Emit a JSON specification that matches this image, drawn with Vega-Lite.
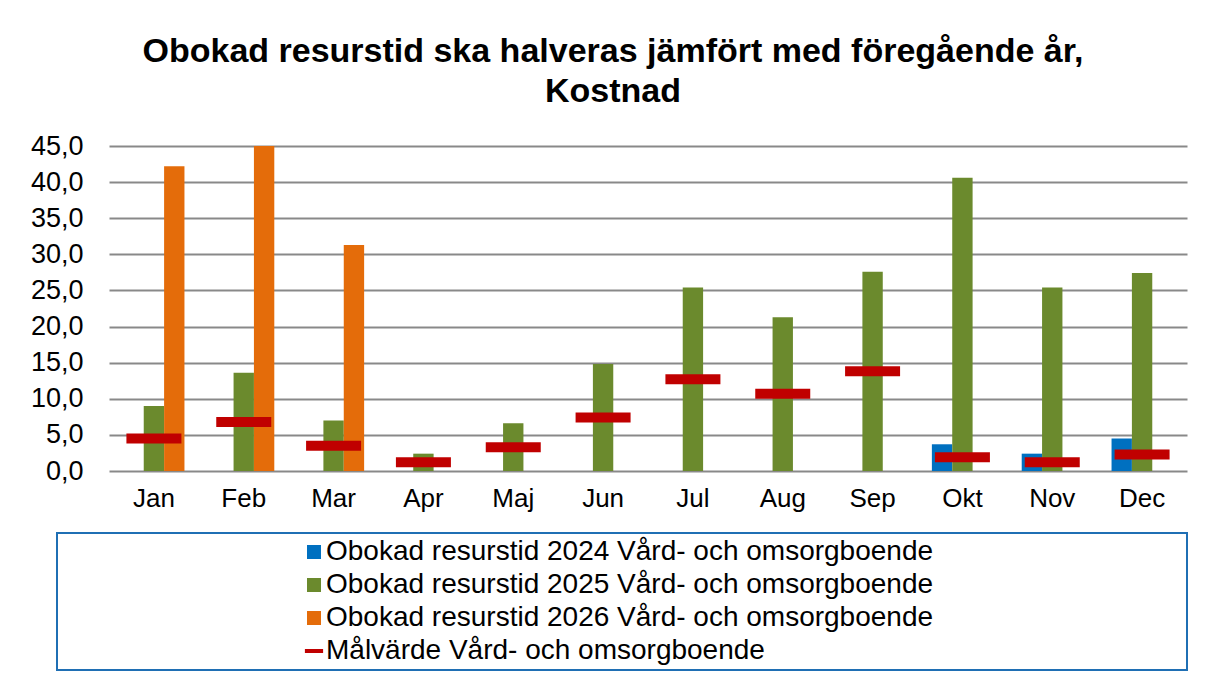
{
  "$schema": "https://vega.github.io/schema/vega-lite/v6.json",
  "width": 1078,
  "height": 325,
  "autosize": {"type": "none"},
  "padding": {"left": 109, "top": 146, "right": 19, "bottom": 206},
  "background": "white",
  "title": {
    "text": ["Obokad resurstid ska halveras jämfört med föregående år,", "Kostnad"],
    "font": "Liberation Sans",
    "fontSize": 34,
    "fontWeight": "bold",
    "color": "#000000",
    "anchor": "middle",
    "frame": "group",
    "dx": -35,
    "offset": 23,
    "lineHeight": 40
  },
  "config": {
    "view": {"stroke": null},
    "font": "Liberation Sans"
  },
  "data": {
    "values": [
      {"month": "Jan", "series": "Obokad resurstid 2025 Vård- och omsorgboende", "value": 9.0},
      {"month": "Jan", "series": "Obokad resurstid 2026 Vård- och omsorgboende", "value": 42.2},
      {"month": "Jan", "series": "Målvärde Vård- och omsorgboende", "value": 4.5},
      {"month": "Feb", "series": "Obokad resurstid 2025 Vård- och omsorgboende", "value": 13.6},
      {"month": "Feb", "series": "Obokad resurstid 2026 Vård- och omsorgboende", "value": 45.0},
      {"month": "Feb", "series": "Målvärde Vård- och omsorgboende", "value": 6.8},
      {"month": "Mar", "series": "Obokad resurstid 2025 Vård- och omsorgboende", "value": 7.0},
      {"month": "Mar", "series": "Obokad resurstid 2026 Vård- och omsorgboende", "value": 31.3},
      {"month": "Mar", "series": "Målvärde Vård- och omsorgboende", "value": 3.5},
      {"month": "Apr", "series": "Obokad resurstid 2025 Vård- och omsorgboende", "value": 2.4},
      {"month": "Apr", "series": "Målvärde Vård- och omsorgboende", "value": 1.2},
      {"month": "Maj", "series": "Obokad resurstid 2025 Vård- och omsorgboende", "value": 6.6},
      {"month": "Maj", "series": "Målvärde Vård- och omsorgboende", "value": 3.3},
      {"month": "Jun", "series": "Obokad resurstid 2025 Vård- och omsorgboende", "value": 14.8},
      {"month": "Jun", "series": "Målvärde Vård- och omsorgboende", "value": 7.4},
      {"month": "Jul", "series": "Obokad resurstid 2025 Vård- och omsorgboende", "value": 25.4},
      {"month": "Jul", "series": "Målvärde Vård- och omsorgboende", "value": 12.7},
      {"month": "Aug", "series": "Obokad resurstid 2025 Vård- och omsorgboende", "value": 21.3},
      {"month": "Aug", "series": "Målvärde Vård- och omsorgboende", "value": 10.7},
      {"month": "Sep", "series": "Obokad resurstid 2025 Vård- och omsorgboende", "value": 27.6},
      {"month": "Sep", "series": "Målvärde Vård- och omsorgboende", "value": 13.8},
      {"month": "Okt", "series": "Obokad resurstid 2024 Vård- och omsorgboende", "value": 3.7},
      {"month": "Okt", "series": "Obokad resurstid 2025 Vård- och omsorgboende", "value": 40.6},
      {"month": "Okt", "series": "Målvärde Vård- och omsorgboende", "value": 1.9},
      {"month": "Nov", "series": "Obokad resurstid 2024 Vård- och omsorgboende", "value": 2.4},
      {"month": "Nov", "series": "Obokad resurstid 2025 Vård- och omsorgboende", "value": 25.4},
      {"month": "Nov", "series": "Målvärde Vård- och omsorgboende", "value": 1.2},
      {"month": "Dec", "series": "Obokad resurstid 2024 Vård- och omsorgboende", "value": 4.5},
      {"month": "Dec", "series": "Obokad resurstid 2025 Vård- och omsorgboende", "value": 27.4},
      {"month": "Dec", "series": "Målvärde Vård- och omsorgboende", "value": 2.3}
    ]
  },
  "encoding": {
    "x": {
      "field": "month",
      "type": "nominal",
      "sort": ["Jan", "Feb", "Mar", "Apr", "Maj", "Jun", "Jul", "Aug", "Sep", "Okt", "Nov", "Dec"],
      "scale": {"paddingInner": 0.32, "paddingOuter": 0.16},
      "axis": {
        "title": null,
        "labelAngle": 0,
        "domain": false,
        "ticks": false,
        "labelFontSize": 26,
        "labelColor": "#000000",
        "labelPadding": 14
      }
    },
    "y": {
      "field": "value",
      "type": "quantitative",
      "scale": {"domain": [0, 45], "nice": false},
      "axis": {
        "title": null,
        "values": [0, 5, 10, 15, 20, 25, 30, 35, 40, 45],
        "labelExpr": "replace(format(datum.value, '.1f'), '.', ',')",
        "domain": false,
        "ticks": false,
        "grid": true,
        "gridColor": "#898989",
        "gridWidth": 2,
        "labelFontSize": 27,
        "labelColor": "#000000",
        "labelPadding": 26
      }
    },
    "color": {
      "field": "series",
      "type": "nominal",
      "scale": {
        "domain": [
          "Obokad resurstid 2024 Vård- och omsorgboende",
          "Obokad resurstid 2025 Vård- och omsorgboende",
          "Obokad resurstid 2026 Vård- och omsorgboende",
          "Målvärde Vård- och omsorgboende"
        ],
        "range": ["#0070c0", "#6b8a2d", "#e46c0a", "#c00000"]
      },
      "legend": {
        "orient": "none",
        "legendX": -52,
        "legendY": 387,
        "title": null,
        "labelFontSize": 28,
        "labelFont": "Liberation Sans",
        "labelColor": "#000000",
        "labelLimit": 900,
        "strokeColor": "#1f6fb4",
        "padding": 5,
        "rowPadding": 5,
        "symbolOffset": 238,
        "labelOffset": -2,
        "encode": {
          "symbols": {
            "update": {
              "shape": {"signal": "datum.value === 'Målvärde Vård- och omsorgboende' ? 'M-1.3,-0.3H1.3V0.3H-1.3ZM124,0' : 'M-1,-1H1V1H-1ZM124,0'"},
              "size": {"value": 196},
              "strokeWidth": {"value": 0}
            }
          },
          "legend": {
            "update": {"strokeWidth": {"value": 2}}
          }
        }
      }
    }
  },
  "layer": [
    {
      "transform": [{"filter": "datum.series !== 'Målvärde Vård- och omsorgboende'"}],
      "mark": {"type": "bar"},
      "encoding": {
        "xOffset": {
          "field": "series",
          "type": "nominal",
          "scale": {
            "domain": [
              "Obokad resurstid 2024 Vård- och omsorgboende",
              "Obokad resurstid 2025 Vård- och omsorgboende",
              "Obokad resurstid 2026 Vård- och omsorgboende"
            ],
            "paddingInner": 0,
            "paddingOuter": 0
          }
        }
      }
    },
    {
      "transform": [{"filter": "datum.series === 'Målvärde Vård- och omsorgboende'"}],
      "mark": {"type": "tick", "size": 55, "thickness": 10, "opacity": 1}
    }
  ]
}
